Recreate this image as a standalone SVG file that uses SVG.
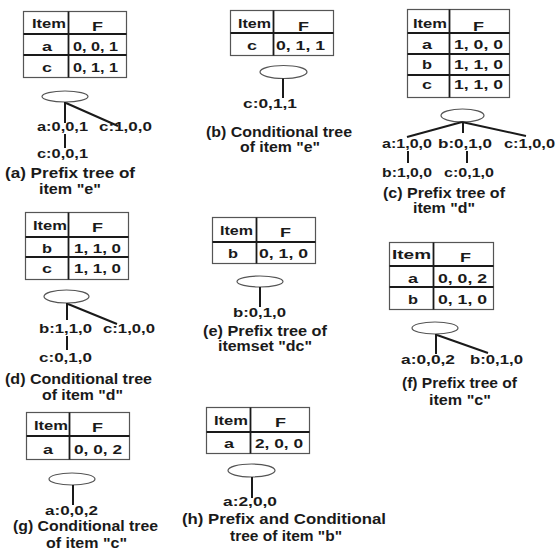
<svg xmlns="http://www.w3.org/2000/svg" width="557" height="549" viewBox="0 0 557 549">
<style>
text{font-family:"Liberation Sans",Arial,sans-serif;font-weight:bold;fill:#1a1a1a}
.t{font-size:13px}
.c{font-size:14px}
.tb{fill:#fff;stroke:#555;stroke-width:1.2}
.ln{stroke:#1a1a1a;stroke-width:1.8;fill:none}
.el{fill:#fff;stroke:#555;stroke-width:1.2}
.e{stroke:#1a1a1a;stroke-width:2;fill:none}
</style>
<rect width="557" height="549" fill="#fff"/>

<g id="panel-a">
<rect class="tb" x="23.5" y="11.5" width="103" height="66"/>
<path class="ln" d="M68.5 11.5V77.5M23.5 34H126.5M23.5 55H126.5"/>
<text class="t" x="32" y="28" textLength="34" lengthAdjust="spacingAndGlyphs">Item</text>
<text class="t" x="92" y="31" textLength="11" lengthAdjust="spacingAndGlyphs">F</text>
<text class="t" x="42" y="51" textLength="10" lengthAdjust="spacingAndGlyphs">a</text>
<text class="t" x="73" y="51" textLength="45" lengthAdjust="spacingAndGlyphs">0, 0, 1</text>
<text class="t" x="42" y="72" textLength="10" lengthAdjust="spacingAndGlyphs">c</text>
<text class="t" x="73" y="72" textLength="45" lengthAdjust="spacingAndGlyphs">0, 1, 1</text>
</g>

<g id="panel-b">
<rect class="tb" x="230.5" y="10.5" width="103" height="45"/>
<path class="ln" d="M273.5 10.5V55.5M230.5 33H333.5"/>
<text class="t" x="238" y="28" textLength="33" lengthAdjust="spacingAndGlyphs">Item</text>
<text class="t" x="298" y="31" textLength="11" lengthAdjust="spacingAndGlyphs">F</text>
<text class="t" x="247" y="50" textLength="10" lengthAdjust="spacingAndGlyphs">c</text>
<text class="t" x="276" y="50" textLength="49" lengthAdjust="spacingAndGlyphs">0, 1, 1</text>
</g>

<g id="panel-c">
<rect class="tb" x="407.5" y="9.5" width="102" height="88"/>
<path class="ln" d="M449.5 9.5V97.5M407.5 33H509.5M407.5 54H509.5M407.5 75H509.5"/>
<text class="t" x="413" y="28" textLength="34" lengthAdjust="spacingAndGlyphs">Item</text>
<text class="t" x="473" y="31" textLength="11" lengthAdjust="spacingAndGlyphs">F</text>
<text class="t" x="422" y="49" textLength="10" lengthAdjust="spacingAndGlyphs">a</text>
<text class="t" x="454" y="49" textLength="49" lengthAdjust="spacingAndGlyphs">1, 0, 0</text>
<text class="t" x="422" y="69" textLength="10" lengthAdjust="spacingAndGlyphs">b</text>
<text class="t" x="454" y="69" textLength="49" lengthAdjust="spacingAndGlyphs">1, 1, 0</text>
<text class="t" x="422" y="89" textLength="10" lengthAdjust="spacingAndGlyphs">c</text>
<text class="t" x="454" y="89" textLength="49" lengthAdjust="spacingAndGlyphs">1, 1, 0</text>
</g>

<g id="panel-d">
<rect class="tb" x="25.5" y="212.5" width="103" height="67"/>
<path class="ln" d="M68.5 212.5V279.5M25.5 237H128.5M25.5 257H128.5"/>
<text class="t" x="33" y="230" textLength="34" lengthAdjust="spacingAndGlyphs">Item</text>
<text class="t" x="92" y="232" textLength="11" lengthAdjust="spacingAndGlyphs">F</text>
<text class="t" x="42" y="253" textLength="10" lengthAdjust="spacingAndGlyphs">b</text>
<text class="t" x="74" y="253" textLength="47" lengthAdjust="spacingAndGlyphs">1, 1, 0</text>
<text class="t" x="42" y="273" textLength="10" lengthAdjust="spacingAndGlyphs">c</text>
<text class="t" x="74" y="273" textLength="47" lengthAdjust="spacingAndGlyphs">1, 1, 0</text>
</g>

<g id="panel-e">
<rect class="tb" x="212.5" y="217.5" width="103" height="46"/>
<path class="ln" d="M256.5 217.5V263.5M212.5 242H315.5"/>
<text class="t" x="220" y="235" textLength="33" lengthAdjust="spacingAndGlyphs">Item</text>
<text class="t" x="280" y="237" textLength="11" lengthAdjust="spacingAndGlyphs">F</text>
<text class="t" x="228" y="258" textLength="10" lengthAdjust="spacingAndGlyphs">b</text>
<text class="t" x="259" y="258" textLength="49" lengthAdjust="spacingAndGlyphs">0, 1, 0</text>
</g>

<g id="panel-f">
<rect class="tb" x="389.5" y="242.5" width="104" height="67"/>
<path class="ln" d="M433.5 242.5V309.5M389.5 266H493.5M389.5 287H493.5"/>
<text class="t" x="392" y="259" textLength="39" lengthAdjust="spacingAndGlyphs">Item</text>
<text class="t" x="460" y="262" textLength="11" lengthAdjust="spacingAndGlyphs">F</text>
<text class="t" x="408" y="283" textLength="10" lengthAdjust="spacingAndGlyphs">a</text>
<text class="t" x="438" y="283" textLength="49" lengthAdjust="spacingAndGlyphs">0, 0, 2</text>
<text class="t" x="408" y="304" textLength="10" lengthAdjust="spacingAndGlyphs">b</text>
<text class="t" x="438" y="304" textLength="49" lengthAdjust="spacingAndGlyphs">0, 1, 0</text>
</g>

<g id="panel-g">
<rect class="tb" x="26.5" y="412.5" width="103" height="47"/>
<path class="ln" d="M69.5 412.5V459.5M26.5 436H129.5"/>
<text class="t" x="34" y="430" textLength="34" lengthAdjust="spacingAndGlyphs">Item</text>
<text class="t" x="92" y="432" textLength="11" lengthAdjust="spacingAndGlyphs">F</text>
<text class="t" x="43" y="454" textLength="10" lengthAdjust="spacingAndGlyphs">a</text>
<text class="t" x="74" y="454" textLength="48" lengthAdjust="spacingAndGlyphs">0, 0, 2</text>
</g>

<g id="panel-h">
<rect class="tb" x="206.5" y="407.5" width="103" height="46"/>
<path class="ln" d="M250.5 407.5V453.5M206.5 432H309.5"/>
<text class="t" x="214" y="425" textLength="34" lengthAdjust="spacingAndGlyphs">Item</text>
<text class="t" x="275" y="427" textLength="11" lengthAdjust="spacingAndGlyphs">F</text>
<text class="t" x="224" y="448" textLength="10" lengthAdjust="spacingAndGlyphs">a</text>
<text class="t" x="255" y="448" textLength="48" lengthAdjust="spacingAndGlyphs">2, 0, 0</text>
</g>

<g id="nodes">
<g id="root-a"><ellipse class="el" cx="65" cy="96.5" rx="23" ry="5.5"/></g>
<g id="a-a"><text class="t" x="37" y="131" textLength="51" lengthAdjust="spacingAndGlyphs">a:0,0,1</text></g>
<g id="a-c1"><text class="t" x="99" y="131" textLength="53" lengthAdjust="spacingAndGlyphs">c:1,0,0</text></g>
<g id="a-c2"><text class="t" x="37" y="158" textLength="51" lengthAdjust="spacingAndGlyphs">c:0,0,1</text></g>

<g id="root-b"><ellipse class="el" cx="283.5" cy="72" rx="23.5" ry="6.5"/></g>
<g id="b-c"><text class="t" x="243" y="108" textLength="54" lengthAdjust="spacingAndGlyphs">c:0,1,1</text></g>

<g id="root-c"><ellipse class="el" cx="462.5" cy="115.5" rx="21.5" ry="6.5"/></g>
<g id="c-a"><text class="t" x="382" y="148" textLength="50" lengthAdjust="spacingAndGlyphs">a:1,0,0</text></g>
<g id="c-b"><text class="t" x="438" y="148" textLength="54" lengthAdjust="spacingAndGlyphs">b:0,1,0</text></g>
<g id="c-c"><text class="t" x="504" y="148" textLength="51" lengthAdjust="spacingAndGlyphs">c:1,0,0</text></g>
<g id="c-ab"><text class="t" x="382" y="177" textLength="50" lengthAdjust="spacingAndGlyphs">b:1,0,0</text></g>
<g id="c-bc"><text class="t" x="444" y="177" textLength="50" lengthAdjust="spacingAndGlyphs">c:0,1,0</text></g>

<g id="root-d"><ellipse class="el" cx="66.5" cy="296.5" rx="22.5" ry="6.5"/></g>
<g id="d-b"><text class="t" x="39" y="333" textLength="53" lengthAdjust="spacingAndGlyphs">b:1,1,0</text></g>
<g id="d-c1"><text class="t" x="103" y="333" textLength="52" lengthAdjust="spacingAndGlyphs">c:1,0,0</text></g>
<g id="d-c2"><text class="t" x="39" y="362" textLength="53" lengthAdjust="spacingAndGlyphs">c:0,1,0</text></g>

<g id="root-e"><ellipse class="el" cx="260" cy="281.5" rx="23" ry="5.5"/></g>
<g id="e-b"><text class="t" x="233" y="317" textLength="53" lengthAdjust="spacingAndGlyphs">b:0,1,0</text></g>

<g id="root-f"><ellipse class="el" cx="435" cy="328" rx="23" ry="6"/></g>
<g id="f-a"><text class="t" x="401" y="364" textLength="54" lengthAdjust="spacingAndGlyphs">a:0,0,2</text></g>
<g id="f-b"><text class="t" x="470" y="364" textLength="53" lengthAdjust="spacingAndGlyphs">b:0,1,0</text></g>

<g id="root-g"><ellipse class="el" cx="72" cy="479" rx="23" ry="6"/></g>
<g id="g-a"><text class="t" x="45" y="515" textLength="53" lengthAdjust="spacingAndGlyphs">a:0,0,2</text></g>

<g id="root-h"><ellipse class="el" cx="251.5" cy="470.5" rx="23.5" ry="6.5"/></g>
<g id="h-a"><text class="t" x="223" y="506" textLength="54" lengthAdjust="spacingAndGlyphs">a:2,0,0</text></g>
</g>

<g id="connectors">
<path class="e" d="M65 102V123M66 103L118 126M65 134V148"/>
<path class="e" d="M283 78.5V98"/>
<path class="e" d="M463 122V133M462 122L407 137M462 122L526 136M408 151V163M467 151V163"/>
<path class="e" d="M67 303V320M68 304L117 324M67 336V350"/>
<path class="e" d="M260 287V307"/>
<path class="e" d="M436 334V354M437 335L488 353"/>
<path class="e" d="M73 485V505"/>
<path class="e" d="M252 477V498"/>
</g>

<g id="captions">
<text class="c" x="5" y="178" textLength="130" lengthAdjust="spacingAndGlyphs">(a) Prefix tree of</text>
<text class="c" x="39" y="194" textLength="62" lengthAdjust="spacingAndGlyphs">item "e"</text>
<text class="c" x="206" y="137" textLength="146" lengthAdjust="spacingAndGlyphs">(b) Conditional tree</text>
<text class="c" x="240" y="152" textLength="80" lengthAdjust="spacingAndGlyphs">of item "e"</text>
<text class="c" x="383" y="198" textLength="122" lengthAdjust="spacingAndGlyphs">(c) Prefix tree of</text>
<text class="c" x="413" y="213" textLength="62" lengthAdjust="spacingAndGlyphs">item "d"</text>
<text class="c" x="5" y="384" textLength="147" lengthAdjust="spacingAndGlyphs">(d) Conditional tree</text>
<text class="c" x="42" y="400" textLength="81" lengthAdjust="spacingAndGlyphs">of item "d"</text>
<text class="c" x="203" y="336" textLength="124" lengthAdjust="spacingAndGlyphs">(e) Prefix tree of</text>
<text class="c" x="218" y="351" textLength="94" lengthAdjust="spacingAndGlyphs">itemset "dc"</text>
<text class="c" x="402" y="388" textLength="115" lengthAdjust="spacingAndGlyphs">(f) Prefix tree of</text>
<text class="c" x="429" y="405" textLength="62" lengthAdjust="spacingAndGlyphs">item "c"</text>
<text class="c" x="13" y="531" textLength="145" lengthAdjust="spacingAndGlyphs">(g) Conditional tree</text>
<text class="c" x="46" y="547.5" textLength="81" lengthAdjust="spacingAndGlyphs">of item "c"</text>
<text class="c" x="182" y="524" textLength="204" lengthAdjust="spacingAndGlyphs">(h) Prefix and Conditional</text>
<text class="c" x="230" y="540.5" textLength="112" lengthAdjust="spacingAndGlyphs">tree of item "b"</text>
</g>
</svg>
